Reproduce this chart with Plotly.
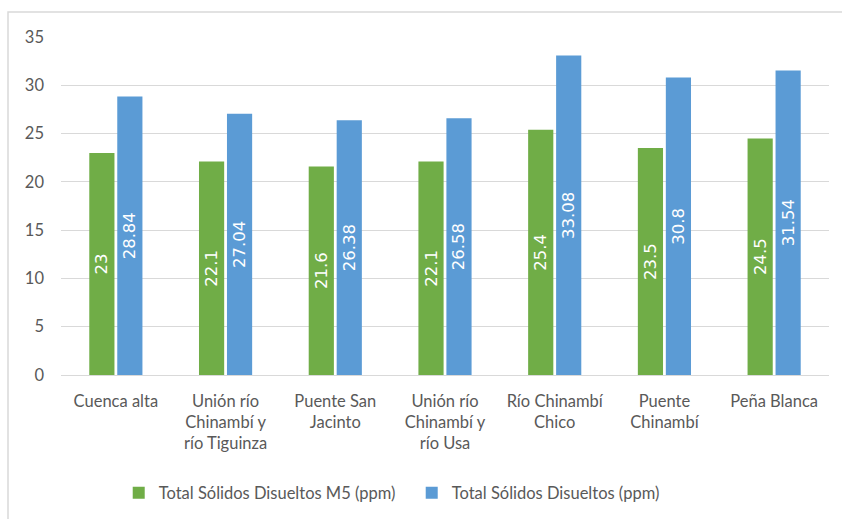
import plotly.graph_objects as go

categories = [
    "Cuenca alta",
    "Unión río<br>Chinambí y<br>río Tiguinza",
    "Puente San<br>Jacinto",
    "Unión río<br>Chinambí y<br>río Usa",
    "Río Chinambí<br>Chico",
    "Puente<br>Chinambí",
    "Peña Blanca",
]
tds_m5 = [23, 22.1, 21.6, 22.1, 25.4, 23.5, 24.5]
tds = [28.84, 27.04, 26.38, 26.58, 33.08, 30.8, 31.54]
series_names = ["Total Sólidos Disueltos M5 (ppm)", "Total Sólidos Disueltos (ppm)"]
y_ticks = [0, 5, 10, 15, 20, 25, 30, 35]

GREEN = "#70AD47"
BLUE = "#5B9BD5"
TEXT = "#595959"
GRID = "#D9D9D9"

label_font = dict(family="DejaVu Sans", size=16.5, color="white")

fig = go.Figure()
for name, vals, color in [(series_names[0], tds_m5, GREEN), (series_names[1], tds, BLUE)]:
    fig.add_trace(go.Bar(
        x=categories, y=vals, name=name,
        marker=dict(color=color, line=dict(width=0)),
        text=[f"{v:g}" for v in vals],
        textposition="inside", insidetextanchor="middle",
        textangle=-90, textfont=label_font,
        constraintext="none", cliponaxis=False,
    ))

fig.update_layout(
    width=842, height=519,
    margin=dict(l=61, r=13, t=37, b=144, autoexpand=False),
    paper_bgcolor="white", plot_bgcolor="white",
    barmode="group", bargap=0.49, bargroupgap=0.1,
    font=dict(family="Lato", size=16, color=TEXT),
    showlegend=True,
    legend=dict(orientation="h", x=0.141, xanchor="left", xref="container",
                y=0.05, yanchor="middle", yref="container",
                font=dict(family="Lato", size=16.5, color=TEXT),
                itemwidth=30, entrywidth=248, entrywidthmode="pixels",
                traceorder="normal"),
    xaxis=dict(showgrid=False, showline=False, ticks="", tickangle=0,
               automargin=False, ticklabelstandoff=14,
               tickfont=dict(family="Lato", size=16.5, color=TEXT)),
    yaxis=dict(range=[0, 35], tickvals=y_ticks, showgrid=True, gridcolor=GRID,
               gridwidth=1, zeroline=True, zerolinecolor=GRID, zerolinewidth=1,
               showline=False, ticks="", ticklen=0,
               automargin=False, ticklabelstandoff=16,
               tickfont=dict(family="Lato", size=16.5, color=TEXT)),
    shapes=[dict(type="rect", xref="paper", yref="paper",
                 x0=-0.069, x1=1.06, y0=-0.6, y1=1.074,
                 line=dict(color=GRID, width=1.5), layer="below")],
)

fig.write_html("out.html")
